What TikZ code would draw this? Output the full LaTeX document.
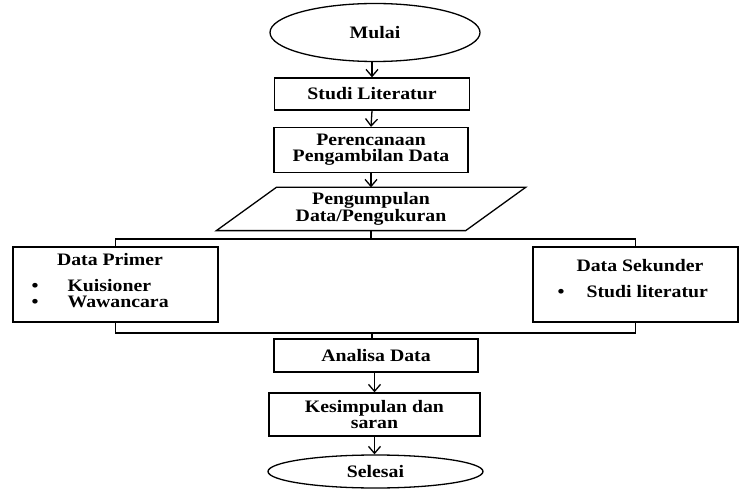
\documentclass[tikz,border=0pt]{standalone}
\usepackage{fontspec}
\setmainfont{Liberation Serif}[FakeStretch=1.13]
\usetikzlibrary{arrows.meta,shapes.geometric}
\begin{document}
\begin{tikzpicture}[x=1pt,y=-1pt,
  font=\fontsize{17.5}{16}\selectfont\bfseries,
  line width=1.3pt,
  box/.style={draw,rectangle,inner sep=0pt,align=center},
  term/.style={draw,ellipse,inner sep=0pt},
  txt/.style={inner sep=0pt,anchor=base west},
  arr/.style={-{Straight Barb[length=7pt,width=12pt,line width=1.3pt]}}]
\useasboundingbox (0,0) rectangle (739,489);
\node[term,minimum width=210,minimum height=58] (mulai) at (375,32.5) {Mulai};
\node[box,minimum width=195,minimum height=32] (studi) at (372,94) {Studi Literatur};
\node[box,minimum width=194,minimum height=45] (renc) at (371,150) {Perencanaan\\Pengambilan Data};
\node[inner sep=0pt,minimum width=248,minimum height=42,align=center] (peng) at (371,209) {Pengumpulan\\Data/Pengukuran};
\draw ([xshift=30]peng.north west) -- ([xshift=30]peng.north east) -- ([xshift=-30]peng.south east) -- ([xshift=-30]peng.south west) -- cycle;
\node[box,minimum width=205,minimum height=75] (prim) at (115.5,284.5) {};
\node[inner sep=0pt] (primT) at (110,260) {Data Primer};
\node[txt] (plist) at (31,291)
  {\begin{tabular}[t]{@{}l@{\hspace{29pt}}l@{}}•&Kuisioner\\•&Wawancara\end{tabular}};
\node[box,minimum width=205,minimum height=75] (sek) at (635.5,284.5) {};
\node[inner sep=0pt] (sekT) at (640,266) {Data Sekunder};
\node[txt] (slist) at (557,298) {•\hspace{22pt}Studi literatur};
\node[box,minimum width=204,minimum height=33] (anal) at (376,355.5) {Analisa Data};
\node[box,minimum width=211,minimum height=43] (kes) at (374.5,414.5) {Kesimpulan dan\\saran};
\node[term,minimum width=215,minimum height=33] (sel) at (375.5,471.5) {Selesai};
\coordinate (busT) at (372,239);
\coordinate (busB) at (372,333);
\draw[arr] (mulai.south -| studi.north) -- (studi.north);
\draw[arr] (studi.south) -- (renc.north);
\draw[arr] (renc.south) -- (peng.north -| renc.south);
\draw (peng.south) -- (peng.south |- busT);
\draw (prim.north) |- (busT) -| (sek.north);
\draw (prim.south) |- (busB) -| (sek.south);
\draw (busB) -- (busB |- anal.north);
\draw[arr] (anal.south -| kes.north) -- (kes.north);
\draw[arr] (kes.south) -- (sel.north -| kes.south);
\end{tikzpicture}
\end{document}
